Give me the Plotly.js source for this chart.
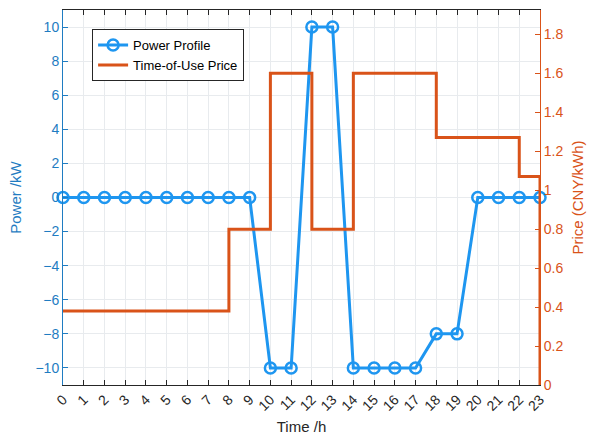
<!DOCTYPE html>
<html>
<head>
<meta charset="utf-8">
<script src="https://cdn.plot.ly/plotly-3.0.1.min.js"></script>
<style>html,body{margin:0;padding:0;background:#fff;}</style>
</head>
<body>
<div id="chart" style="width:601px;height:438px;"></div>
<script>
const hours = [0,1,2,3,4,5,6,7,8,9,10,11,12,13,14,15,16,17,18,19,20,21,22,23];
const power = [0,0,0,0,0,0,0,0,0,0,-10,-10,10,10,-10,-10,-10,-10,-8,-8,0,0,0,0];
const priceHours = [0,1,2,3,4,5,6,7,8,9,10,11,12,13,14,15,16,17,18,19,20,21,22,23];
const price = [0.38,0.38,0.38,0.38,0.38,0.38,0.38,0.38,0.8,0.8,1.6,1.6,0.8,0.8,1.6,1.6,1.6,1.6,1.27,1.27,1.27,1.27,1.07,0];
const tickLabels = hours.map(String);

const blueLine = '#1E96F0';
const blueAxis = '#1F7CC2';
const orange = '#D95319';

const traces = [
  {
    x: hours, y: power, name: 'Power Profile', type: 'scatter', mode: 'lines+markers',
    line: {color: blueLine, width: 3},
    marker: {symbol: 'circle-open', size: 11, color: blueLine, line: {width: 2.5, color: blueLine}},
    yaxis: 'y', cliponaxis: false
  },
  {
    x: priceHours, y: price, name: 'Time-of-Use Price', type: 'scatter', mode: 'lines',
    line: {color: orange, width: 3, shape: 'hv'},
    yaxis: 'y2'
  }
];

const layout = {
  width: 601, height: 438,
  margin: {l: 63, r: 61, t: 10, b: 53},
  paper_bgcolor: '#fff', plot_bgcolor: '#fff',
  font: {family: 'Liberation Sans, Arial, sans-serif', size: 13, color: '#262626'},
  showlegend: true,
  legend: {
    x: 0.061, y: 0.949, xanchor: 'left', yanchor: 'top',
    bgcolor: '#fff', bordercolor: '#262626', borderwidth: 1,
    font: {size: 13, color: '#000'}, tracegroupgap: 0
  },
  xaxis: {
    range: [0, 23], tickmode: 'array', tickvals: hours, ticktext: tickLabels,
    tickangle: -45, ticks: 'inside', ticklen: 5, tickcolor: '#262626',
    showline: true, linecolor: '#262626', linewidth: 1, mirror: 'ticks',
    showgrid: true, gridcolor: '#E8EBEE', zeroline: false,
    tickfont: {size: 14, color: '#262626'},
    title: {text: 'Time /h', font: {size: 15, color: '#262626'}, standoff: 8}
  },
  yaxis: {
    range: [-11, 11], dtick: 2, tick0: 0, ticks: 'inside', ticklen: 5, tickcolor: blueAxis,
    showline: true, linecolor: blueAxis, linewidth: 1,
    showgrid: true, gridcolor: '#E8EBEE', zeroline: false,
    tickfont: {size: 14, color: blueAxis},
    title: {text: 'Power /kW', font: {size: 15, color: blueAxis}, standoff: 10}
  },
  yaxis2: {
    overlaying: 'y', side: 'right', range: [0, 1.925], dtick: 0.2, tick0: 0,
    ticks: 'inside', ticklen: 5, tickcolor: orange,
    showline: true, linecolor: orange, linewidth: 1,
    showgrid: false, zeroline: false,
    tickfont: {size: 14, color: orange},
    title: {text: 'Price (CNY/kWh)', font: {size: 15, color: orange}, standoff: 10}
  }
};

Plotly.newPlot('chart', traces, layout, {displayModeBar: false, staticPlot: true});
</script>
</body>
</html>
